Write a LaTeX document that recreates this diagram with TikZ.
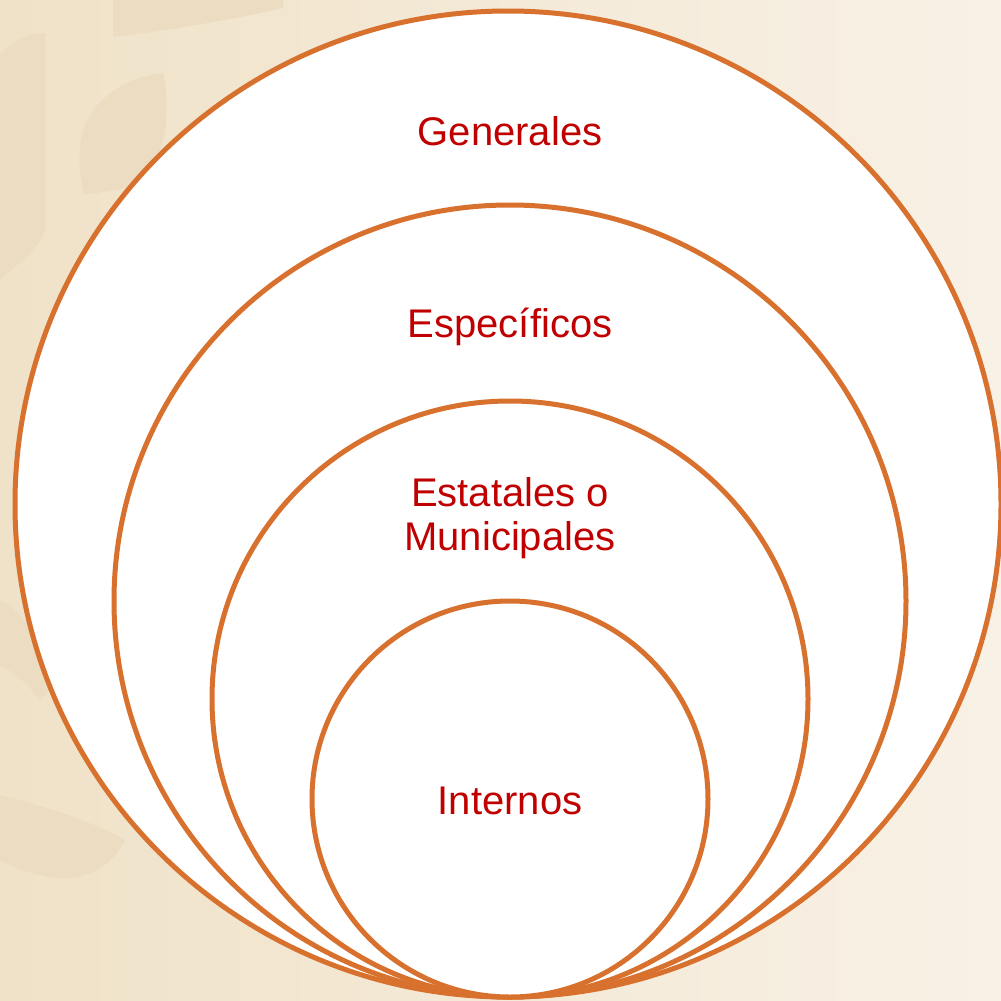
\documentclass[tikz,border=0pt]{standalone}
\usepackage{fontspec}
\setmainfont{Liberation Sans}
\begin{document}
\begin{tikzpicture}[x=1pt,y=-1pt,
  ring/.style={circle,draw=ringc,fill=white,line width=5pt,inner sep=0pt},
  lbl/.style={text=lblc,font=\fontsize{40}{44}\selectfont,align=center,inner sep=0pt},
  blob/.style={fill=blobc,draw=none}]
\definecolor{ringc}{HTML}{D8712D}
\definecolor{lblc}{HTML}{C00000}
\definecolor{bgl}{HTML}{F0E2C8}
\definecolor{bgr}{HTML}{F8F1E6}
\definecolor{blobc}{HTML}{EBDCC2}
\useasboundingbox (0,0) rectangle (1001,1001);
\shade[left color=bgl,right color=bgr] (0,0) rectangle (1001,1001);
% faint decorative shapes
\fill[blob] (0,55) .. controls (15,38) and (30,33) .. (45,33) -- (45,230) .. controls (35,255) and (15,265) .. (0,280) -- cycle;
\fill[blob] (80,150) .. controls (82,105) and (120,78) .. (163,73) .. controls (172,110) and (165,160) .. (140,185) .. controls (120,190) and (100,192) .. (85,195) .. controls (80,180) and (79,165) .. (80,150) -- cycle;
\fill[blob] (113,0) -- (283,0) -- (283,8) .. controls (230,20) and (170,30) .. (113,37) -- cycle;
\fill[blob] (0,600) .. controls (20,610) and (45,640) .. (60,680) -- (40,700) .. controls (25,680) and (10,670) .. (0,665) -- cycle;
\fill[blob] (0,795) .. controls (40,805) and (90,820) .. (125,840) .. controls (110,870) and (80,885) .. (40,875) .. controls (20,870) and (8,865) .. (0,860) -- cycle;
% rings
\node[ring,minimum size=986] (c1) at (508,504) {};
\node[ring,minimum size=792] (c2) at (510,601) {};
\node[ring,minimum size=596] (c3) at (510,699) {};
\node[ring,minimum size=396] (c4) at (510,799) {};
% labels
\node[lbl] (t1) at (510,131) {Generales};
\node[lbl] (t2) at (510,327) {Específicos};
\node[lbl] (t3) at (510,518) {Estatales o\\Municipales};
\node[lbl] (t4) at (510,801) {Internos};
\end{tikzpicture}
\end{document}
